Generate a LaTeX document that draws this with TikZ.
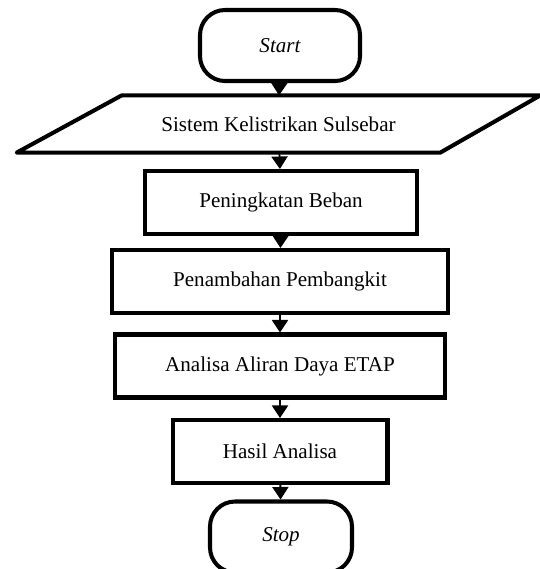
\documentclass[tikz,border=0pt]{standalone}
\usepackage{fontspec}
\setmainfont{Liberation Serif}
\usetikzlibrary{arrows.meta}

\begin{document}
\begin{tikzpicture}[x=0.02cm, y=-0.02cm]

    % Styles
    \tikzstyle{terminal node} = [rectangle, rounded corners=0.5cm, draw, line width=2.3pt,
        minimum width=3.2cm, minimum height=1.42cm, font=\fontsize{12}{14}\selectfont\itshape];
    \tikzstyle{process node} = [rectangle, draw, line width=2.3pt,
        minimum height=1.26cm, font=\fontsize{12}{14}\selectfont];
    \tikzstyle{io node} = [rectangle, minimum width=10.46cm, minimum height=1.13cm,
        font=\fontsize{12}{14}\selectfont];
    \tikzstyle{io border} = [line width=2.3pt, line join=round];
    \tikzstyle{flow arrow} = [-{Triangle[width=0.32cm, length=0.25cm]}, line width=1.1pt];

    \useasboundingbox (0,0) rectangle (540,569);

    % Nodes
    \node[terminal node] (Start) at (280,45.5) {Start};
    \node[io node] (Input) at (278.5,124) {Sistem Kelistrikan Sulsebar};
    \draw[io border] ([xshift=2.1cm]Input.north west) -- (Input.north east)
        -- ([xshift=-2cm]Input.south east) -- (Input.south west) -- cycle;
    \node[process node, minimum width=5.44cm] (Load) at (281,202.5) {Peningkatan Beban};
    \node[process node, minimum width=6.72cm] (Gen) at (280,281.5) {Penambahan Pembangkit};
    \node[process node, minimum width=6.6cm] (Flow) at (280,366) {Analisa Aliran Daya ETAP};
    \node[process node, minimum width=4.3cm] (Result) at (280,451.5) {Hasil Analisa};
    \node[terminal node, minimum width=2.84cm] (Stop) at (281,537) {Stop};

    % Arrows
    \draw [flow arrow] (Start) to (Input);
    \draw [flow arrow] (Input) to (Load);
    \draw [flow arrow] (Load) to (Gen);
    \draw [flow arrow] (Gen) to (Flow);
    \draw [flow arrow] (Flow) to (Result);
    \draw [flow arrow] (Result) to (Stop);
\end{tikzpicture}
\end{document}
